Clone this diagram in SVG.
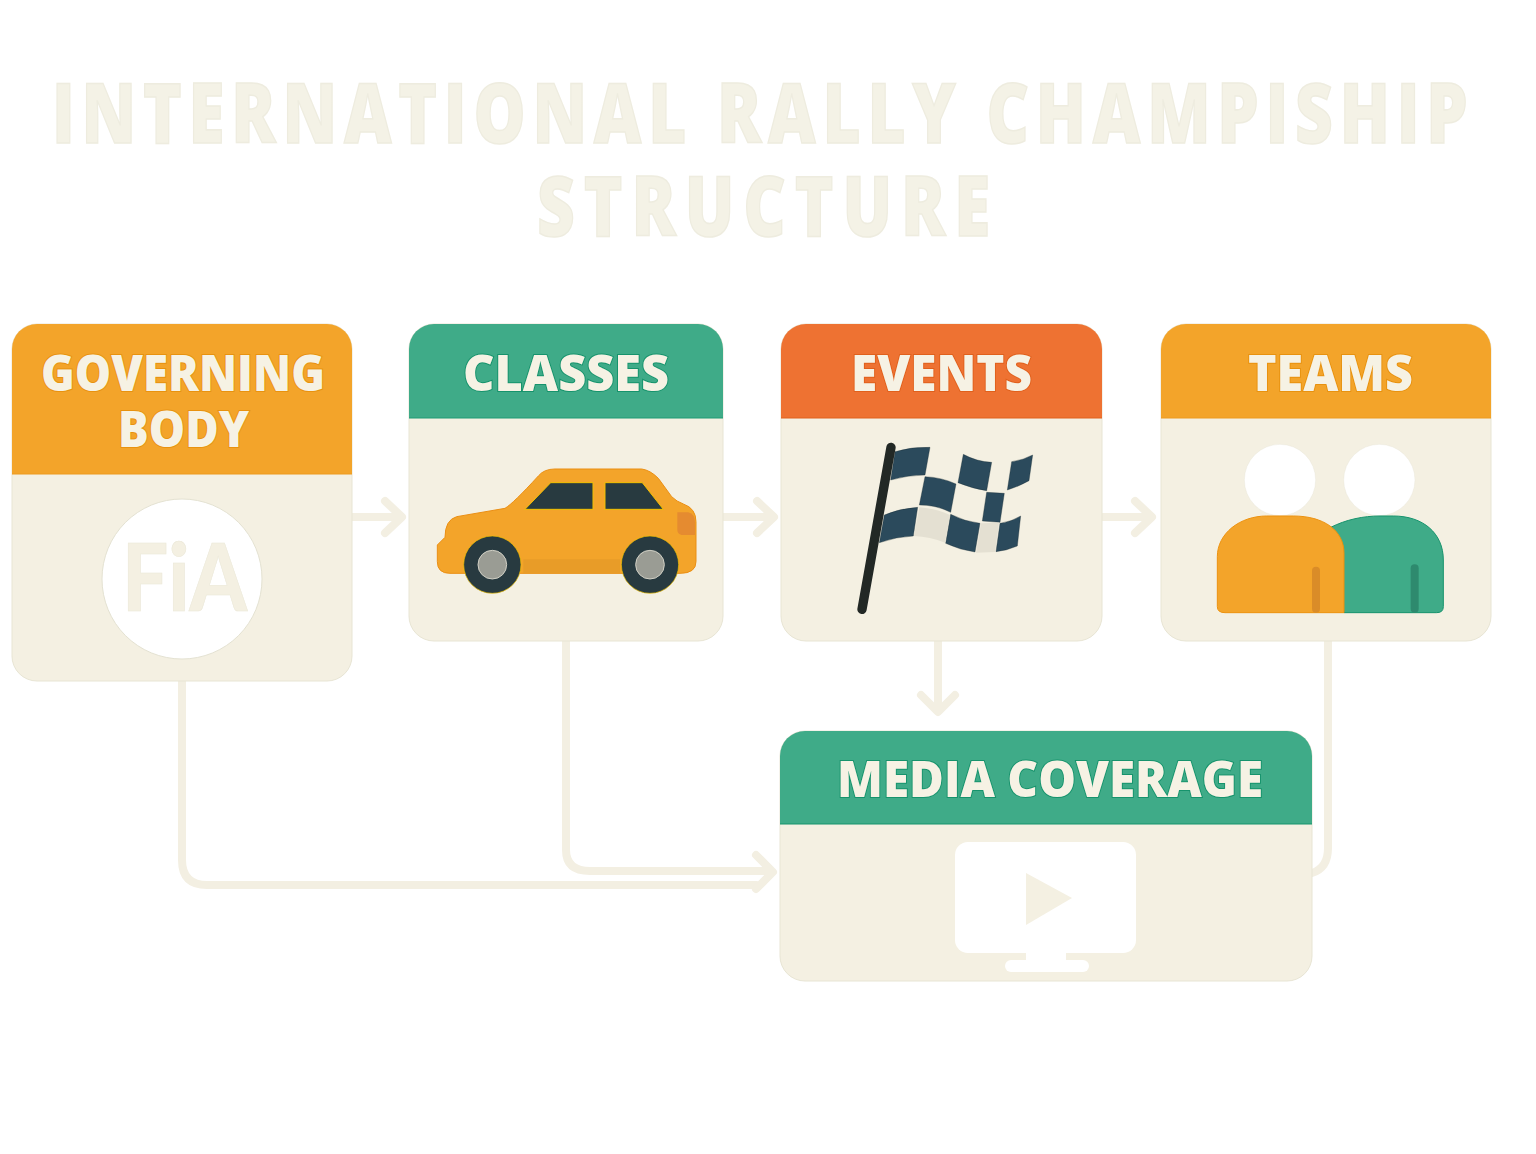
<svg xmlns="http://www.w3.org/2000/svg" width="1536" height="1154" viewBox="0 0 1536 1154">
<style>
.title{font:800 84px "Open Sans","DejaVu Sans",sans-serif;fill:#f4f2e6;stroke:#eeecdf;stroke-width:1.5}
.hd{font:800 50px "Open Sans","DejaVu Sans",sans-serif;fill:#f6f2e4;stroke-width:2;paint-order:stroke}
.card{fill:#f4f0e2;stroke:#e8e5d4;stroke-width:1}
.conn{fill:none;stroke:#f3efe2;stroke-width:8;stroke-linecap:round;stroke-linejoin:round}
.o{fill:#f3a42a}.g{fill:#3fab88}.r{fill:#ee7232}
.ot{stroke:#e8920f}.gt{stroke:#16936c}.rt{stroke:#e0601c}
.blue{fill:#2b4a5c;stroke:#16262e;stroke-width:1}
.wht{fill:#fff;stroke:#e4e2d2;stroke-width:1}
.dark{fill:#283a40}
</style>
<g id="title">
<text class="title" transform="translate(52 143) scale(.78 1)" textLength="1815" lengthAdjust="spacing">INTERNATIONAL RALLY CHAMPISHIP</text>
<text class="title" transform="translate(537 236) scale(.78 1)" textLength="581" lengthAdjust="spacing">STRUCTURE</text>
</g>
<g id="connectors" class="conn">
<path d="M352 517H398"/><path d="M385 501L402 517L385 533"/>
<path d="M724 517H770"/><path d="M757 501L774 517L757 533"/>
<path d="M1103 517H1148"/><path d="M1135 501L1152 517L1135 533"/>
<path d="M938 641V708"/><path d="M921 695L938 712L955 695"/>
<path d="M182 681V860Q182 885 207 885H756"/>
<path d="M566 641V850Q566 871 590 871H768"/>
<path d="M756 855L773 872L756 889"/>
<path d="M1328 641V848Q1328 868 1312 873"/>
</g>
<g id="governing-body">
<rect class="card" x="12" y="324" width="340" height="357" rx="25"/>
<path class="o" d="M12 474V349A25 25 0 0 1 37 324H327A25 25 0 0 1 352 349V474Z"/>
<path d="M12 474H352" stroke="#ec9a1e" stroke-width="1"/>
<text class="hd ot" x="41" y="391" textLength="284" lengthAdjust="spacingAndGlyphs">GOVERNING</text>
<text class="hd ot" x="118" y="447" textLength="131" lengthAdjust="spacingAndGlyphs">BODY</text>
<circle class="wht" cx="182" cy="579" r="80"/>
<text x="122" y="611" font-family="Lato,'Liberation Sans',sans-serif" font-weight="900" font-size="93" fill="#f4f0e2" stroke="#ebe8d8" stroke-width="0.6" textLength="125" lengthAdjust="spacingAndGlyphs">FiA</text>
</g>
<g id="classes">
<rect class="card" x="409" y="324" width="314" height="317" rx="25"/>
<path class="g" d="M409 418V349A25 25 0 0 1 434 324H698A25 25 0 0 1 723 349V418Z"/>
<path d="M409 418H723" stroke="#1f9a75" stroke-width="1"/>
<text class="hd gt" x="463" y="391" textLength="206" lengthAdjust="spacingAndGlyphs">CLASSES</text>
<g transform="translate(400 430) scale(.33333)">
<path class="o" stroke="#ea8f14" stroke-width="3" d="M112 345L135 322Q135 270 170 260L315 235Q340 220 415 138Q432 117 465 117L725 117Q750 120 775 145L815 200Q830 215 850 222Q888 235 888 275L888 395Q888 430 840 430L150 430Q112 430 112 395Z"/>
<path d="M370 388H660V430H370Z" fill="#e89c28"/>
<path d="M832 247H865Q885 252 885 275V315H845Q832 312 832 300Z" fill="#e58b30"/>
<path class="dark" stroke="#f2c200" stroke-width="3" d="M375 238L452 158H579V238Z"/>
<path class="dark" stroke="#f2c200" stroke-width="3" d="M615 158H727L790 238H615Z"/>
<circle class="dark" cx="277" cy="404" r="86" stroke="#f2c200" stroke-width="2"/>
<circle class="dark" cx="750" cy="404" r="86" stroke="#f2c200" stroke-width="2"/>
<circle cx="277" cy="404" r="43" fill="#9a9c94" stroke="#d0cfc4" stroke-width="3"/>
<circle cx="750" cy="404" r="43" fill="#9a9c94" stroke="#d0cfc4" stroke-width="3"/>
</g>
</g>
<g id="events">
<rect class="card" x="781" y="324" width="321" height="317" rx="25"/>
<path class="r" d="M781 418V349A25 25 0 0 1 806 324H1077A25 25 0 0 1 1102 349V418Z"/>
<path d="M781 418H1102" stroke="#e0601c" stroke-width="1"/>
<text class="hd rt" x="851" y="391" textLength="181" lengthAdjust="spacingAndGlyphs">EVENTS</text>
<g transform="translate(780 420) scale(.33333)">
<path class="blue" d="M345 95Q395 80 450 82L435 165Q385 165 332 180Z"/>
<path class="blue" d="M435 170Q485 172 528 192L512 277Q470 255 418 255Z"/>
<path class="blue" d="M550 103Q590 125 635 127L620 212Q575 205 534 188Z"/>
<path class="blue" d="M695 125Q730 120 758 105L747 182Q715 200 682 210Z"/>
<path class="blue" d="M620 217L673 220L660 307L607 303Z"/>
<path class="blue" d="M313 285Q360 265 413 262L400 348Q350 350 298 368Z"/>
<path class="blue" d="M512 283Q555 305 600 310L585 396Q540 390 497 370Z"/>
<path class="blue" d="M660 310Q695 305 722 288L712 378Q680 392 648 395Z"/>
<path d="M418 262Q465 265 510 285L495 368Q450 350 402 348Z" fill="#e4e0d2"/>
<path d="M603 310L657 308L645 396L588 398Z" fill="#e4e0d2"/>
<path d="M333 82L246 568" stroke="#222825" stroke-width="28" stroke-linecap="round"/>
</g>
</g>
<g id="teams">
<rect class="card" x="1161" y="324" width="330" height="317" rx="25"/>
<path class="o" d="M1161 418V349A25 25 0 0 1 1186 324H1466A25 25 0 0 1 1491 349V418Z"/>
<path d="M1161 418H1491" stroke="#ec9a1e" stroke-width="1"/>
<text class="hd ot" x="1248" y="391" textLength="165" lengthAdjust="spacingAndGlyphs">TEAMS</text>
<g transform="translate(1150 420) scale(.33333)">
<circle class="wht" cx="390" cy="180" r="107" stroke-width="3"/>
<circle class="wht" cx="688" cy="180" r="107" stroke-width="3"/>
<path class="g" stroke="#16936c" stroke-width="3" d="M540 323C590 298 640 288 690 288L730 288C820 288 880 340 880 420L880 560Q880 578 860 578L582 578Z"/>
<path class="o" stroke="#ec920f" stroke-width="3" d="M202 410C202 340 270 288 350 288L430 288C520 288 582 330 582 400L582 578L225 578Q202 578 202 560Z"/>
<rect x="486" y="440" width="24" height="138" rx="12" fill="#da8c28"/>
<rect x="782" y="433" width="24" height="145" rx="12" fill="#2e8a6e"/>
</g>
</g>
<g id="media-coverage">
<rect class="card" x="780" y="731" width="532" height="250" rx="25"/>
<path class="g" d="M780 824V756A25 25 0 0 1 805 731H1287A25 25 0 0 1 1312 756V824Z"/>
<path d="M780 824H1312" stroke="#16936c" stroke-width="1"/>
<text class="hd gt" x="837" y="797" textLength="426" lengthAdjust="spacingAndGlyphs">MEDIA COVERAGE</text>
<rect x="955" y="842" width="181" height="111" rx="13" fill="#fff"/>
<rect x="1026" y="950" width="40" height="13" fill="#fff"/>
<rect x="1005" y="960" width="84" height="12" rx="6" fill="#fff"/>
<path d="M1026 873L1072 898L1026 925Z" fill="#f4f0e2"/>
</g>
</svg>
